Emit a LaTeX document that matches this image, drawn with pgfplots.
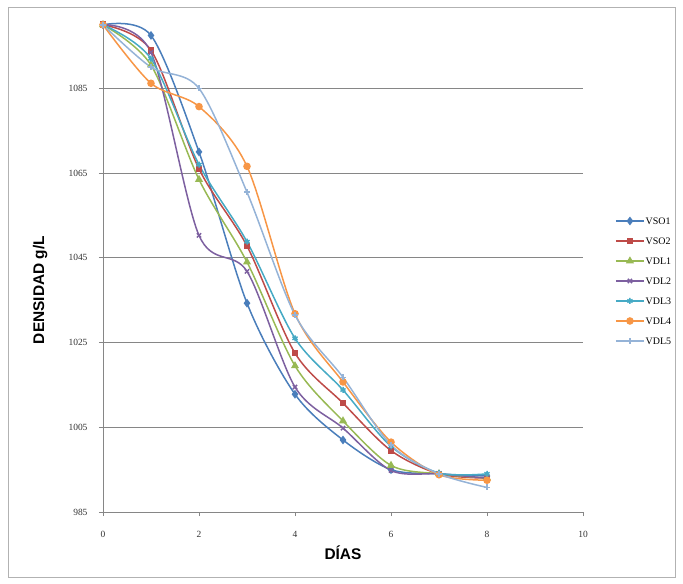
\documentclass[border=0pt]{standalone}
\usepackage{fontspec}
\setmainfont{Liberation Serif}
\newfontfamily\arialb{Liberation Sans}
\usepackage{pgfplots}
\pgfplotsset{compat=1.18}
\definecolor{c1}{HTML}{4A7EBB}
\definecolor{c2}{HTML}{BE4B48}
\definecolor{c3}{HTML}{98B954}
\definecolor{c4}{HTML}{7D60A0}
\definecolor{c5}{HTML}{46AAC5}
\definecolor{c6}{HTML}{F79646}
\definecolor{c7}{HTML}{95B3D7}
\definecolor{gridc}{HTML}{868686}
\begin{document}
\begin{tikzpicture}
\useasboundingbox (-103bp,-72bp) rectangle (580bp,512bp);
\draw[gray!60, line width=0.8bp] (-95bp,-65bp) rectangle (572bp,505bp);
\begin{axis}[
  at={(0,0)}, anchor=south west,
  scale only axis, width=480bp, height=488bp,
  xmin=0, xmax=10, ymin=985, ymax=1100.2,
  xtick={0,2,4,6,8,10},
  ytick={985,1005,1025,1045,1065,1085},
  axis x line*=bottom, axis y line*=left,
  axis line style={gridc, line width=0.8bp},
  ymajorgrids, grid style={gridc, line width=0.8bp},
  tick style={gridc, line width=0.8bp},
  tick align=outside, major tick length=4bp,
  ticklabel style={font=\fontsize{9.5}{11}\selectfont, text=black!80},
  yticklabel style={xshift=-8bp},
  xticklabel style={yshift=-12bp},
  /pgf/number format/assume math mode=true,
  /pgf/number format/set thousands separator={},
  xlabel={\arialb\bfseries\fontsize{15.5}{18}\selectfont DÍAS},
  ylabel={\arialb\bfseries\fontsize{15.5}{18}\selectfont DENSIDAD g/L},
  xlabel style={at={(axis description cs:0.5,-0.098)}, anchor=base},
  ylabel style={at={(axis description cs:-0.131,0.455)}, anchor=center},
  legend style={at={(axis description cs:1.0604,0.4734)}, anchor=west, draw=none, fill=none,
    font=\fontsize{10}{12}\selectfont, row sep=9.5bp,
    nodes={inner sep=1bp, text height=7.5bp, text depth=1bp}},
  legend cell align=left,
  legend image code/.code={\draw[mark repeat=2,mark phase=2] plot coordinates {(0bp,0bp)(14bp,0bp)(28bp,0bp)};},
  every axis plot/.append style={line width=1.5bp, smooth, tension=0.5},
  clip=false,
]
\addplot[c1, mark=diamond*, mark size=3.2bp, mark options={solid}] coordinates {(0,1100)(1,1097.5)(2,1070)(3,1034.3)(4,1012.8)(5,1002)(6,995)(7,994)(8,993.5)};
\addlegendentry{VSO1}
\addplot[c2, mark=square*, mark size=2.6bp] coordinates {(0,1100)(1,1094)(2,1066)(3,1047.8)(4,1022.5)(5,1010.7)(6,999.5)(7,994)(8,993)};
\addlegendentry{VSO2}
\addplot[c3, mark=triangle*, mark size=3.2bp] coordinates {(0,1100)(1,1090.5)(2,1063.5)(3,1044)(4,1019.5)(5,1006.5)(6,996)(7,994)(8,993)};
\addlegendentry{VDL1}
\addplot[c4, mark=x, mark size=3bp] coordinates {(0,1100)(1,1093.5)(2,1050.3)(3,1041.8)(4,1014.5)(5,1004.8)(6,994.8)(7,994)(8,993)};
\addlegendentry{VDL2}
\addplot[c5, mark=asterisk, mark size=3bp] coordinates {(0,1100)(1,1092)(2,1067)(3,1048.8)(4,1026)(5,1013.8)(6,1000.5)(7,994.2)(8,994)};
\addlegendentry{VDL3}
\addplot[c6, mark=*, mark size=3bp] coordinates {(0,1100)(1,1086.2)(2,1080.7)(3,1066.6)(4,1031.8)(5,1015.7)(6,1001.5)(7,993.8)(8,992.5)};
\addlegendentry{VDL4}
\addplot[c7, mark=+, mark size=3bp] coordinates {(0,1100)(1,1090)(2,1085)(3,1060.5)(4,1031.5)(5,1016.8)(6,1000.8)(7,994)(8,990.8)};
\addlegendentry{VDL5}
\end{axis}
\end{tikzpicture}
\end{document}
